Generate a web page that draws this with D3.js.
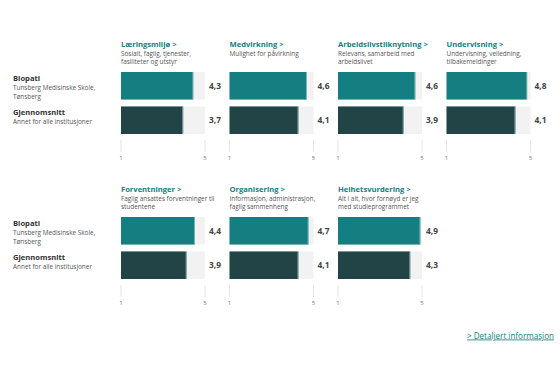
<!DOCTYPE html>
<html>
<head>
<meta charset="utf-8">
<script src="https://cdn.jsdelivr.net/npm/d3@7"></script>
<style>
  body { margin: 0; background: #fff; font-family: "Open Sans", sans-serif; }
  .title { fill: #157e80; font-weight: 700; font-size: 7.6px; }
  .sub { fill: #555; font-size: 6.4px; }
  .lbl { fill: #333; font-weight: 700; font-size: 7.6px; }
  .val { fill: #444; font-weight: 700; font-size: 8.4px; font-family: "Liberation Sans Narrow", "Open Sans", sans-serif; }
  .tick { fill: #777; font-size: 6px; }
  .link { fill: #157e80; font-size: 8.1px; text-decoration: underline; }
</style>
</head>
<body>
<div id="chart"></div>
<script>
// Data
const categories = ["Læringsmiljø", "Medvirkning", "Arbeidslivstilknytning", "Undervisning",
                    "Forventninger", "Organisering", "Helhetsvurdering"];
const descriptions = [
    ["Sosialt, faglig, tjenester,", "fasiliteter og utstyr"],
    ["Mulighet for påvirkning"],
    ["Relevans, samarbeid med", "arbeidslivet"],
    ["Undervisning, veiledning,", "tilbakemeldinger"],
    ["Faglig ansattes forventninger til", "studentene"],
    ["Informasjon, administrasjon,", "faglig sammenheng"],
    ["Alt i alt, hvor fornøyd er jeg", "med studieprogrammet"]
];
const programValues = [4.3, 4.6, 4.6, 4.8, 4.4, 4.7, 4.9];
const averageValues = [3.7, 4.1, 3.9, 4.1, 3.9, 4.1, 4.3];
const seriesNames = ["Biopati", "Gjennomsnitt"];
const seriesDesc = [["Tunsberg Medisinske Skole,", "Tønsberg"], ["Annet for alle institusjoner"]];
const tickLabels = [1, 5];
const colors = ["#157e80", "#224446"];

const width = 560, height = 392;
const svg = d3.select("#chart").append("svg")
    .attr("width", width).attr("height", height);

const colX = d3.scaleLinear().domain([0, 1]).range([121, 229.5]);
const rowY = d3.scaleLinear().domain([0, 1]).range([0, 145]);
const trackW = 84;
const barScale = d3.scaleLinear().domain([0, 5]).range([0, trackW]);
const axisScale = d3.scaleLinear().domain([1, 5]).range([0, trackW]);
const barY = d3.scaleBand().domain([0, 1]).range([72, 134]).paddingInner(0.2);

categories.forEach((cat, i) => {
    const row = Math.floor(i / 4), col = i % 4;
    const g = svg.append("g")
        .attr("transform", `translate(${colX(col)}, ${rowY(row)})`);

    g.append("text").attr("class", "title").attr("x", 0).attr("y", 46.5).text(cat + " >");
    descriptions[i].forEach((line, j) => {
        g.append("text").attr("class", "sub").attr("x", 0).attr("y", 55.5 + j * 8.2).text(line);
    });

    const vals = [programValues[i], averageValues[i]];
    vals.forEach((v, k) => {
        g.append("rect")
            .attr("x", 0).attr("y", barY(k))
            .attr("width", trackW).attr("height", barY.bandwidth())
            .attr("fill", "#f2f2f2");
        g.append("rect")
            .attr("x", 0).attr("y", barY(k))
            .attr("width", barScale(v)).attr("height", barY.bandwidth())
            .attr("fill", colors[k]);
        g.append("rect")
            .attr("x", barScale(v) - 0.8).attr("y", barY(k))
            .attr("width", 0.8).attr("height", barY.bandwidth())
            .attr("fill", "#8fbcbc");
        g.append("text").attr("class", "val")
            .attr("x", trackW + 4).attr("y", barY(k) + barY.bandwidth() / 2 + 3)
            .text(d3.format(".1f")(v).replace(".", ","));
    });

    // axis
    const ax = g.append("g").attr("transform", "translate(0, 140)");
    tickLabels.forEach(t => {
        ax.append("line")
            .attr("x1", axisScale(t)).attr("x2", axisScale(t))
            .attr("y1", 0).attr("y2", 12)
            .attr("stroke", "#ddd").attr("stroke-width", 0.8);
        ax.append("text").attr("class", "tick")
            .attr("x", axisScale(t)).attr("y", 20)
            .attr("text-anchor", "middle").text(t);
    });
});

// left legend labels for each row
[0, 1].forEach(row => {
    const g = svg.append("g").attr("transform", `translate(13, ${rowY(row)})`);
    seriesNames.forEach((name, k) => {
        const y0 = barY(k) + 8.5;
        g.append("text").attr("class", "lbl").attr("x", 0).attr("y", y0).text(name);
        seriesDesc[k].forEach((line, j) => {
            g.append("text").attr("class", "sub").attr("x", 0).attr("y", y0 + 9.5 + j * 8.5).text(line);
        });
    });
});

svg.append("text").attr("class", "link")
    .attr("x", 554).attr("y", 338.5).attr("text-anchor", "end")
    .text("> Detaljert informasjon");
</script>
</body>
</html>
